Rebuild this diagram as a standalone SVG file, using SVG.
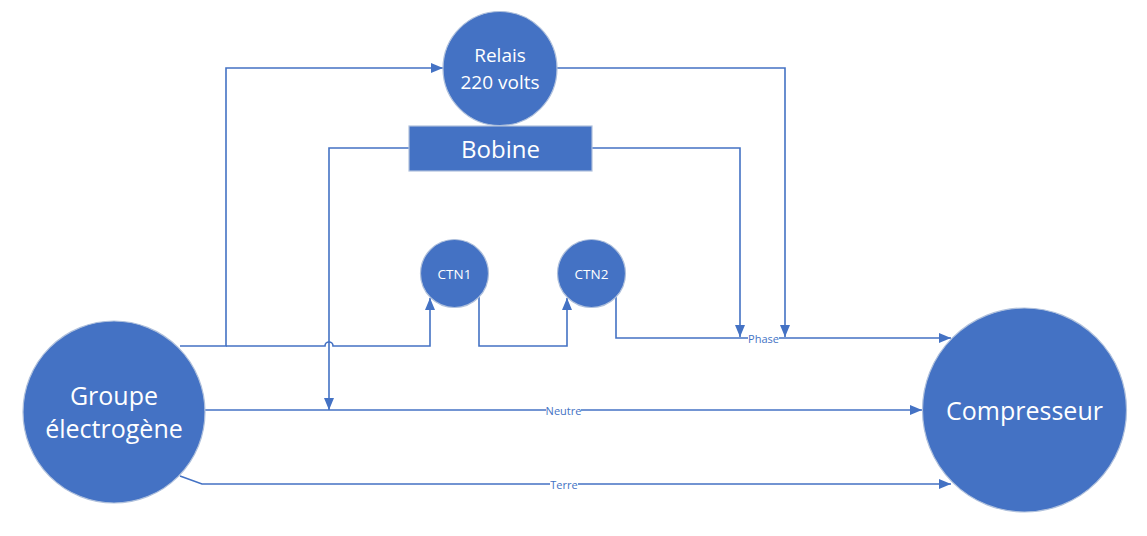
<svg xmlns="http://www.w3.org/2000/svg" width="1147" height="536" viewBox="0 0 1147 536">
<style>
.node{fill:#4472C4;stroke:#AFC0DC;stroke-width:1.2}
.t{font-family:"Segoe UI","Open Sans","Noto Sans",sans-serif;fill:#FFFFFF;text-anchor:middle;dominant-baseline:central}
.c{fill:none;stroke:#4472C4;stroke-width:1.6}
.lbl{font-family:"Segoe UI","Open Sans","Noto Sans",sans-serif;fill:#4472C4;font-size:11px;text-anchor:middle;dominant-baseline:central}
.bg{fill:#FFFFFF}
</style>
<defs>
<marker id="arr" viewBox="0 0 12 10" refX="12" refY="5" markerWidth="12" markerHeight="10" markerUnits="userSpaceOnUse" orient="auto">
<path d="M0,0 L12,5 L0,10 z" fill="#4472C4"/>
</marker>
</defs>
<rect width="1147" height="536" fill="#FFFFFF"/>
<g id="connectors">
<path class="c" d="M180,346 H226 V68 H443" marker-end="url(#arr)"/>
<path class="c" d="M226,346 H325 A4,4 0 0 1 333,346 H430 V298" marker-end="url(#arr)"/>
<path class="c" d="M479,297 V346 H567 V298" marker-end="url(#arr)"/>
<path class="c" d="M616,297 V338 H951" marker-end="url(#arr)"/>
<path class="c" d="M557,68 H785 V337" marker-end="url(#arr)"/>
<path class="c" d="M592,148 H740 V337" marker-end="url(#arr)"/>
<path class="c" d="M409,148 H329 V410" marker-end="url(#arr)"/>
<path class="c" d="M205,410 H922" marker-end="url(#arr)"/>
<path class="c" d="M180,476 L202,484 H951" marker-end="url(#arr)"/>
<rect class="bg" x="748" y="332" width="31" height="12"/>
<text class="lbl" x="763.5" y="338">Phase</text>
<rect class="bg" x="546" y="404" width="35" height="12"/>
<text class="lbl" x="563.5" y="410">Neutre</text>
<rect class="bg" x="550" y="478" width="28" height="12"/>
<text class="lbl" x="564" y="484">Terre</text>
</g>
<g id="relais">
<circle class="node" cx="500" cy="68.5" r="57"/>
<text class="t" x="500" y="55" font-size="19">Relais</text>
<text class="t" x="500" y="82" font-size="19">220 volts</text>
</g>
<g id="bobine">
<rect class="node" x="409" y="126" width="183" height="45"/>
<text class="t" x="500.5" y="148" font-size="24">Bobine</text>
</g>
<g id="ctn1">
<circle class="node" cx="454.5" cy="273.5" r="34"/>
<text class="t" x="454.5" y="273.5" font-size="13.5">CTN1</text>
</g>
<g id="ctn2">
<circle class="node" cx="591.5" cy="273.5" r="34"/>
<text class="t" x="591.5" y="273.5" font-size="13.5">CTN2</text>
</g>
<g id="groupe">
<circle class="node" cx="114" cy="412" r="91"/>
<text class="t" x="114" y="395" font-size="25">Groupe</text>
<text class="t" x="114" y="428" font-size="25">électrogène</text>
</g>
<g id="compresseur">
<circle class="node" cx="1024.5" cy="410" r="102"/>
<text class="t" x="1024.5" y="410" font-size="25">Compresseur</text>
</g>
</svg>
